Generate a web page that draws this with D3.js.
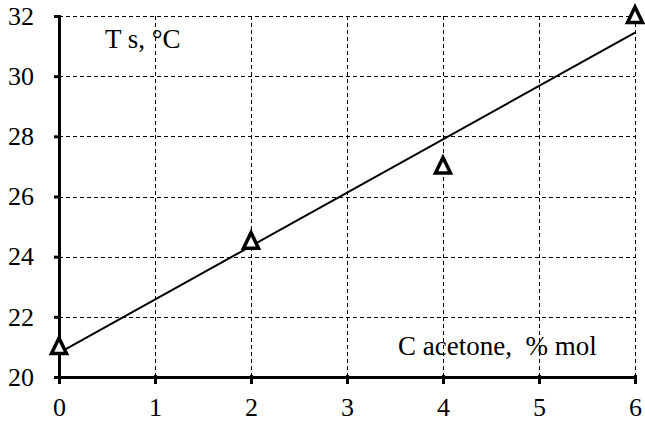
<!DOCTYPE html>
<html>
<head>
<meta charset="utf-8">
<script src="https://cdn.jsdelivr.net/npm/d3@7"></script>
<style>
body { margin: 0; background: #fff; }
text { font-family: "Liberation Serif", "Times New Roman", serif; }
</style>
</head>
<body>
<script>
var xValues = [0, 2, 4, 6];
var yValues = [21, 24.5, 27, 32];
var xTicks = [0, 1, 2, 3, 4, 5, 6];
var yTicks = [20, 22, 24, 26, 28, 30, 32];

var w = 645;
var h = 422;

var svg = d3.select("body")
	.append("svg")
	.attr("width", w)
	.attr("height", h);

var x = d3.scaleLinear().domain([0, 6]).range([59, 635]);
var y = d3.scaleLinear().domain([20, 32]).range([377, 16]);

// grid
svg.selectAll("line.vgrid")
	.data(xTicks.slice(1))
	.enter()
	.append("line")
	.attr("x1", function(d){ return Math.round(x(d)) + 0.5; })
	.attr("x2", function(d){ return Math.round(x(d)) + 0.5; })
	.attr("y1", y(32))
	.attr("y2", y(20))
	.attr("stroke", "#000")
	.attr("stroke-width", 1)
	.attr("stroke-dasharray", "4,3");

svg.selectAll("line.hgrid")
	.data(yTicks.slice(1))
	.enter()
	.append("line")
	.attr("x1", x(0))
	.attr("x2", x(6))
	.attr("y1", function(d){ return Math.round(y(d)) + 0.5; })
	.attr("y2", function(d){ return Math.round(y(d)) + 0.5; })
	.attr("stroke", "#000")
	.attr("stroke-width", 1)
	.attr("stroke-dasharray", "4,3");

// axes
var xAxis = d3.axisBottom(x).tickValues(xTicks).tickFormat(d3.format("d")).tickSize(7).tickPadding(14).tickSizeOuter(0);
var yAxis = d3.axisLeft(y).tickValues(yTicks).tickFormat(d3.format("d")).tickSize(7).tickPadding(18).tickSizeOuter(0);

var gx = svg.append("g").attr("transform", "translate(0," + y(20) + ")").call(xAxis);
var gy = svg.append("g").attr("transform", "translate(" + x(0) + ",0)").call(yAxis);

[gx, gy].forEach(function(g){
	g.attr("font-family", null);
	g.select(".domain").attr("stroke", "#000").attr("stroke-width", 3);
	g.selectAll(".tick line").attr("stroke", "#000").attr("stroke-width", 3);
	g.selectAll(".tick text")
		.attr("fill", "#000")
		.style("font-size", "26px");
});
gx.selectAll(".tick line").attr("y1", -2);
gy.selectAll(".tick line").attr("x1", 2).attr("x2", -5);

// trend line (least squares)
var mx = d3.mean(xValues), my = d3.mean(yValues);
var slope = d3.sum(xValues, function(d, i){ return (d - mx) * (yValues[i] - my); }) /
	d3.sum(xValues, function(d){ return (d - mx) * (d - mx); });
var icpt = my - slope * mx;

svg.append("line")
	.attr("x1", x(0))
	.attr("y1", y(icpt))
	.attr("x2", x(6))
	.attr("y2", y(icpt + slope * 6))
	.attr("stroke", "#000")
	.attr("stroke-width", 2);

// markers
svg.selectAll("path.pt")
	.data(xValues)
	.enter()
	.append("path")
	.attr("d", "M0,-9 L7.5,6.5 L-7.5,6.5 Z")
	.attr("transform", function(d, i){ return "translate(" + x(d) + "," + y(yValues[i]) + ")"; })
	.attr("fill", "#fff")
	.attr("stroke", "#000")
	.attr("stroke-width", 3.5)
	.attr("stroke-linejoin", "miter");

// labels
svg.append("text")
	.attr("x", 105)
	.attr("y", 48)
	.style("font-size", "27px")
	.attr("xml:space", "preserve")
	.style("white-space", "pre")
	.text("T s, °C");

svg.append("text")
	.attr("x", 398)
	.attr("y", 355)
	.style("font-size", "27px")
	.attr("xml:space", "preserve")
	.style("white-space", "pre")
	.text("C acetone,  % mol");
</script>
</body>
</html>
